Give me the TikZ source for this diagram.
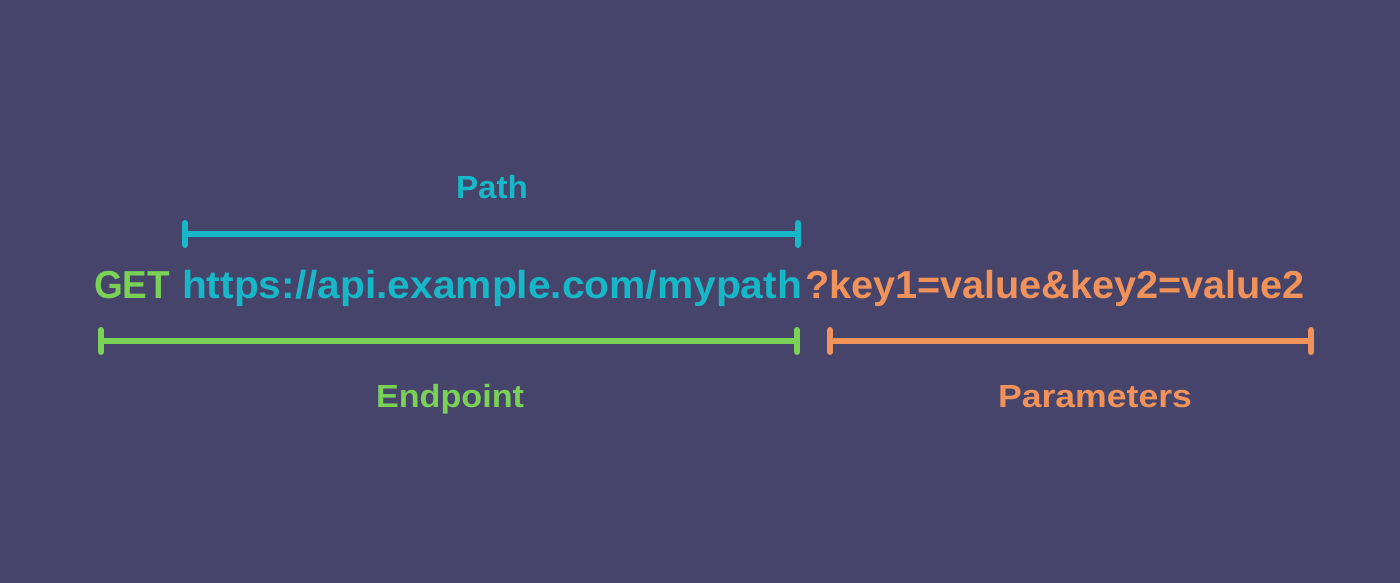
\documentclass[tikz,border=0pt]{standalone}
\usepackage{fontspec}
\setmainfont{Liberation Sans}
\usepackage{graphicx}
\definecolor{bgcol}{HTML}{46446B}
\definecolor{cyancol}{HTML}{16B8C8}
\definecolor{greencol}{HTML}{79D256}
\definecolor{orangecol}{HTML}{F2925B}
\newlength\fitlen
\newcommand\fitx[2]{\settowidth\fitlen{#2}\pgfmathsetmacro\fitratio{#1/\fitlen}\scalebox{\fitratio}[1]{#2}}
\tikzset{
  urltext/.style={inner sep=0pt, outer sep=0pt, anchor=base west, font=\fontsize{39}{39}\selectfont\bfseries},
  labeltext/.style={inner sep=0pt, outer sep=0pt, anchor=base, font=\fontsize{32}{32}\selectfont\bfseries},
  barline/.style={line width=5.5pt},
  tickline/.style={line width=6pt, line cap=round},
}
\begin{document}
\begin{tikzpicture}[x=1pt,y=-1pt]
\fill[bgcol] (0,0) rectangle (1400,583);
\useasboundingbox (0,0) rectangle (1400,583);

% main line
\node[urltext, text=greencol] (get) at (94,298) {\fitx{76}{GET}};
\node[urltext, text=cyancol] (url) at (182,298) {\fitx{620}{https://api.example.com/mypath}};
\node[urltext, text=orangecol] (params) at (805,298) {\fitx{500}{?key1=value\&key2=value2}};

% labels
\node[labeltext, text=cyancol] (pathlbl) at (492,198) {\fitx{72}{Path}};
\node[labeltext, text=greencol] (endlbl) at (450,407) {\fitx{148}{Endpoint}};
\node[labeltext, text=orangecol] (parlbl) at (1095,407) {\fitx{194}{Parameters}};

% bracket coordinates
\coordinate (pa) at (185,234);
\coordinate (pb) at (798,234);
\coordinate (ea) at (101,341);
\coordinate (eb) at (797,341);
\coordinate (qa) at (830,341);
\coordinate (qb) at (1311,341);

% path bracket
\draw[cyancol, barline] (pa) -- (pb);
\draw[cyancol, tickline] ([yshift=-11pt]pa) -- ([yshift=11pt]pa);
\draw[cyancol, tickline] ([yshift=-11pt]pb) -- ([yshift=11pt]pb);

% endpoint bracket
\draw[greencol, barline] (ea) -- (eb);
\draw[greencol, tickline] ([yshift=-11pt]ea) -- ([yshift=11pt]ea);
\draw[greencol, tickline] ([yshift=-11pt]eb) -- ([yshift=11pt]eb);

% parameters bracket
\draw[orangecol, barline] (qa) -- (qb);
\draw[orangecol, tickline] ([yshift=-11pt]qa) -- ([yshift=11pt]qa);
\draw[orangecol, tickline] ([yshift=-11pt]qb) -- ([yshift=11pt]qb);
\end{tikzpicture}
\end{document}
